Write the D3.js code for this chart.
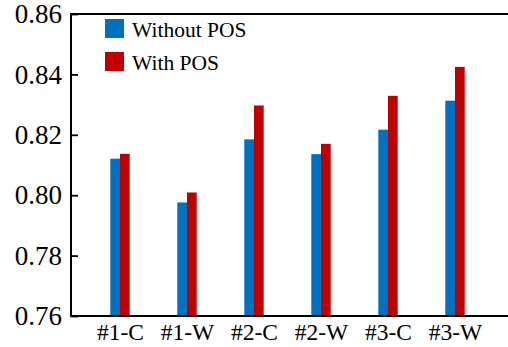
<!DOCTYPE html>
<html>
<head>
<meta charset="utf-8">
<script src="https://cdn.jsdelivr.net/npm/d3@7"></script>
<style>
  html, body { margin: 0; padding: 0; background: #fff; }
  svg { display: block; }
</style>
</head>
<body>
<div id="chart"></div>
<script>
const categories = ["#1-C", "#1-W", "#2-C", "#2-W", "#3-C", "#3-W"];
const seriesNames = ["Without POS", "With POS"];
const withoutPOS = [0.8121, 0.7976, 0.8185, 0.8136, 0.8217, 0.8313];
const withPOS = [0.8137, 0.8009, 0.8297, 0.8170, 0.8329, 0.8425];
const yTicks = [0.76, 0.78, 0.80, 0.82, 0.84, 0.86];
const colors = ["#0070C0", "#C00000"];

const W = 508, H = 347;
const mLeft = 71, mRight = 508, mTop = 14, mBottom = 316;
const font = "'Liberation Serif', 'DejaVu Serif', serif";

const svg = d3.select("#chart").append("svg")
  .attr("width", W).attr("height", H);

const x = d3.scalePoint().domain(categories).range([120, 455]);
const xs = d3.scaleBand().domain(seriesNames).range([-9.7, 9.7]);
const y = d3.scaleLinear().domain([0.76, 0.86]).range([mBottom, mTop]);

const series = [withoutPOS, withPOS];

// bars
series.forEach((vals, si) => {
  svg.append("g").selectAll("rect")
    .data(vals)
    .join("rect")
    .attr("x", (d, i) => x(categories[i]) + xs(seriesNames[si]))
    .attr("width", xs.bandwidth())
    .attr("y", d => y(d))
    .attr("height", d => y(0.76) - y(d))
    .attr("fill", colors[si]);
});

// y axis (ticks inward)
const yAxis = d3.axisRight(y).tickValues(yTicks).tickSize(7).tickFormat("");
const gy = svg.append("g").attr("transform", `translate(${mLeft},0)`).call(yAxis);
gy.select(".domain").remove();
gy.selectAll(".tick line").attr("stroke", "#000").attr("stroke-width", 1.8);

// y tick labels
svg.append("g").selectAll("text")
  .data(yTicks)
  .join("text")
  .attr("x", mLeft - 9)
  .attr("y", d => y(d))
  .attr("dy", "0.34em")
  .attr("text-anchor", "end")
  .attr("font-family", font)
  .attr("font-size", 27)
  .attr("fill", "#000")
  .text(d => d3.format(".2f")(d));

// x labels
const xAxis = d3.axisBottom(x).tickSize(0).tickPadding(0);
const gx = svg.append("g").attr("transform", `translate(0,${mBottom})`).call(xAxis);
gx.select(".domain").remove();
gx.selectAll(".tick text")
  .attr("y", 24)
  .attr("dy", 0)
  .attr("font-family", font)
  .attr("font-size", 23.5)
  .attr("fill", "#000");

// frame lines
svg.append("line").attr("x1", mLeft).attr("x2", mRight).attr("y1", mTop).attr("y2", mTop)
  .attr("stroke", "#000").attr("stroke-width", 2);
svg.append("line").attr("x1", mLeft).attr("x2", mRight).attr("y1", mBottom).attr("y2", mBottom)
  .attr("stroke", "#000").attr("stroke-width", 2);
svg.append("line").attr("x1", mLeft).attr("x2", mLeft).attr("y1", mTop - 1).attr("y2", mBottom + 1)
  .attr("stroke", "#000").attr("stroke-width", 2);

// legend
const legend = svg.append("g");
seriesNames.forEach((name, i) => {
  const yy = 19 + i * 33;
  legend.append("rect").attr("x", 105).attr("y", yy).attr("width", 19).attr("height", 19)
    .attr("fill", colors[i]);
  legend.append("text").attr("x", 132).attr("y", yy + 18)
    .attr("font-family", font).attr("font-size", 21.5).attr("fill", "#000")
    .text(name);
});
</script>
</body>
</html>
